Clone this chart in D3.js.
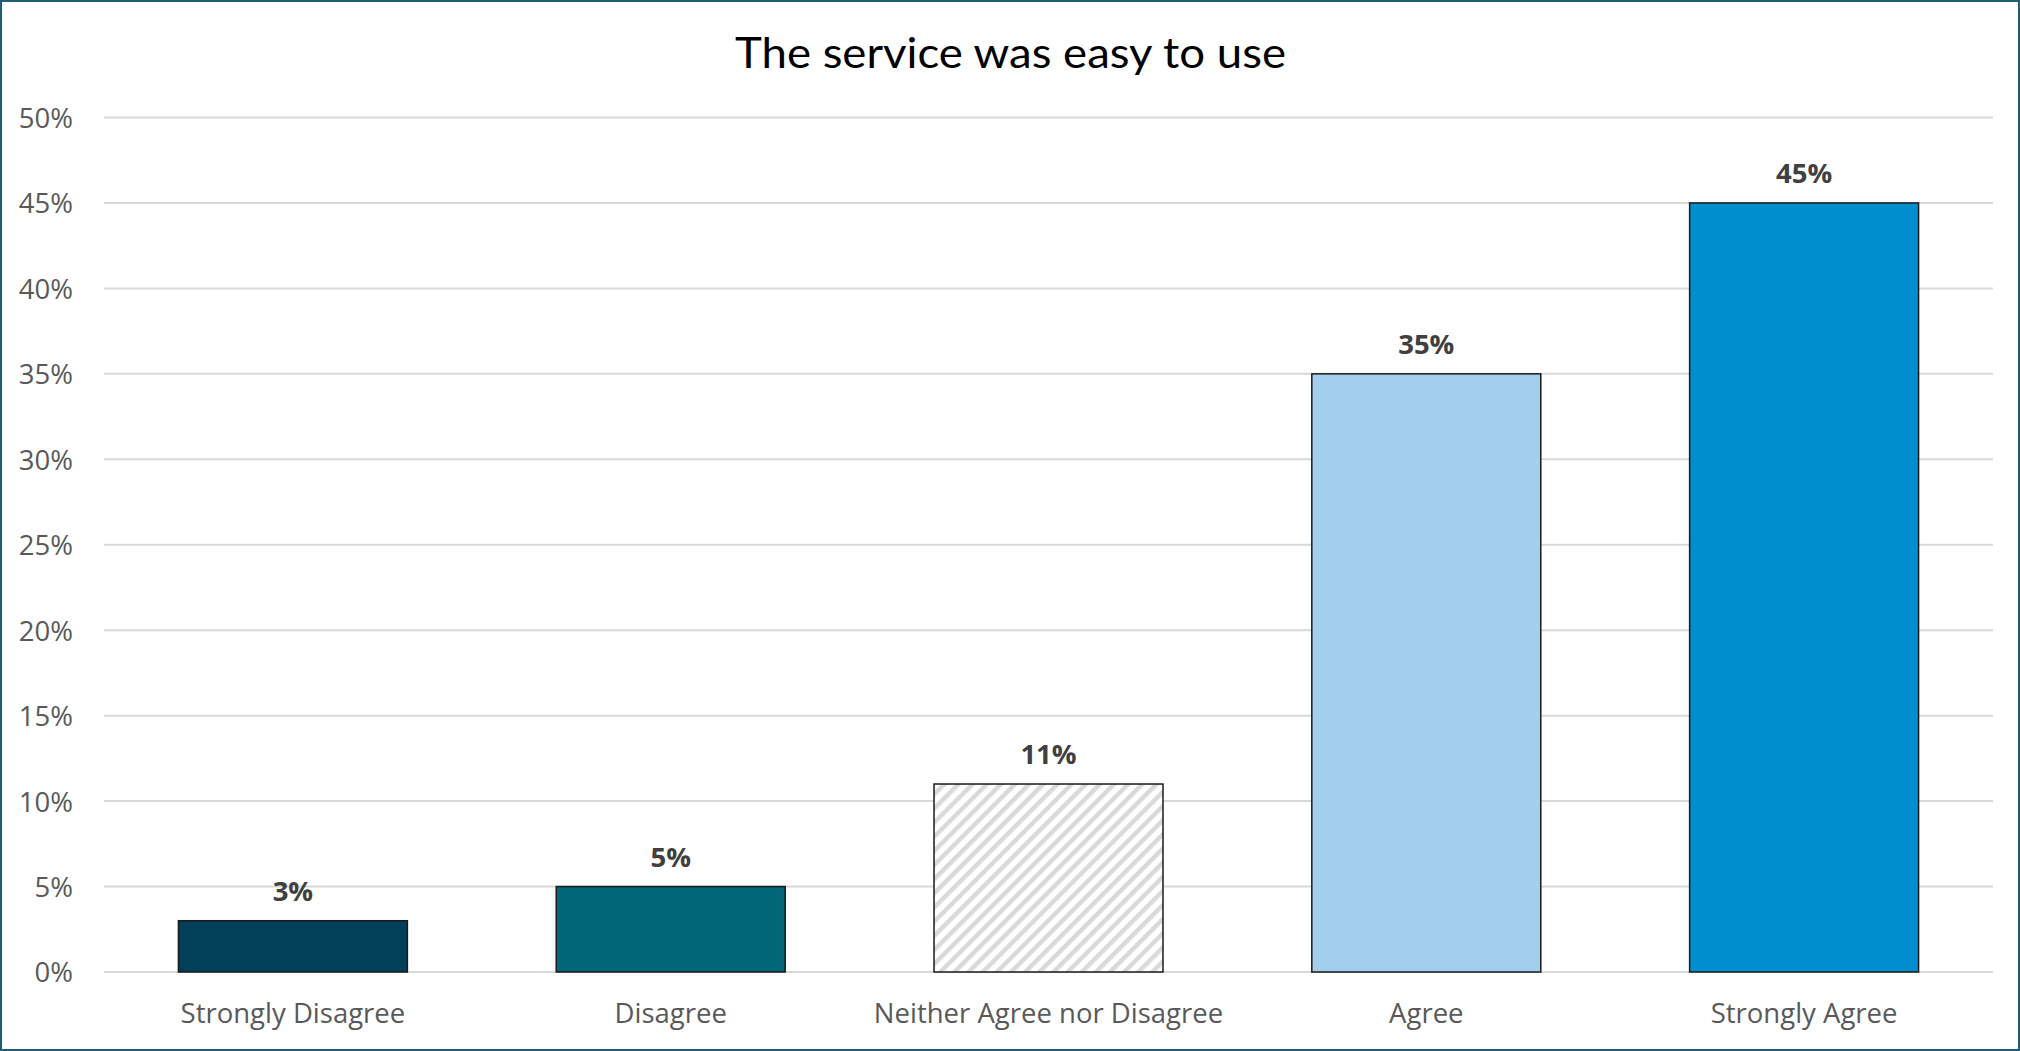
<!DOCTYPE html>
<html>
<head>
<meta charset="utf-8">
<script src="https://cdn.jsdelivr.net/npm/d3@7"></script>
<style>
  html, body { margin: 0; padding: 0; background: #fff; }
  svg { display: block; }
</style>
</head>
<body>
<div id="chart"></div>
<script>
const title = "The service was easy to use";
const categories = ["Strongly Disagree", "Disagree", "Neither Agree nor Disagree", "Agree", "Strongly Agree"];
const values = [0.03, 0.05, 0.11, 0.35, 0.45];
const yTicks = [0, 0.05, 0.10, 0.15, 0.20, 0.25, 0.30, 0.35, 0.40, 0.45, 0.50];
const barColors = ["#023F59", "#006776", "hatch", "#A3CFEC", "#008ECE"];

const W = 2020, H = 1051;
const margin = { left: 104, right: 27, top: 117.5, bottom: 79 };

const svg = d3.select("#chart").append("svg").attr("width", W).attr("height", H);

const defs = svg.append("defs");
const pat = defs.append("pattern")
  .attr("id", "hatch").attr("patternUnits", "userSpaceOnUse")
  .attr("width", 10).attr("height", 10)
  .attr("patternTransform", "rotate(45)");
pat.append("rect").attr("width", 10).attr("height", 10).attr("fill", "#ffffff");
pat.append("line").attr("x1", 0).attr("y1", 0).attr("x2", 0).attr("y2", 10)
  .attr("stroke", "#d9d9d9").attr("stroke-width", 9);

svg.append("rect").attr("x", 0).attr("y", 0).attr("width", W).attr("height", H).attr("fill", "#fff");

const x = d3.scaleBand().domain(categories)
  .range([margin.left, W - margin.right]).paddingInner(0.394).paddingOuter(0.197);
const y = d3.scaleLinear().domain([0, 0.5]).range([H - margin.bottom, margin.top]);

// gridlines
svg.append("g").selectAll("line").data(yTicks).join("line")
  .attr("x1", margin.left).attr("x2", W - margin.right)
  .attr("y1", d => y(d)).attr("y2", d => y(d))
  .attr("stroke", "#d9d9d9").attr("stroke-width", 2);

// y axis labels
const yAxis = d3.axisLeft(y).tickValues(yTicks).tickFormat(d3.format(".0%")).tickSize(0).tickPadding(0);
const gy = svg.append("g").attr("transform", `translate(73,0)`).call(yAxis);
gy.select(".domain").remove();
gy.selectAll("text").attr("font-family", "'Open Sans', sans-serif").attr("font-size", 27.5)
  .attr("fill", "#595959").attr("dy", "0.36em");

// bars
svg.append("g").selectAll("rect").data(values).join("rect")
  .attr("x", (d, i) => x(categories[i]))
  .attr("width", x.bandwidth())
  .attr("y", d => y(d))
  .attr("height", d => y(0) - y(d))
  .attr("fill", (d, i) => barColors[i] === "hatch" ? "url(#hatch)" : barColors[i])
  .attr("stroke", "#1a1a1a").attr("stroke-width", 1.5);

// data labels
svg.append("g").selectAll("text").data(values).join("text")
  .attr("x", (d, i) => x(categories[i]) + x.bandwidth() / 2)
  .attr("y", d => y(d) - 20)
  .attr("text-anchor", "middle")
  .attr("font-family", "'Open Sans', sans-serif").attr("font-weight", "bold")
  .attr("font-size", 27.5).attr("fill", "#404040")
  .text(d => d3.format(".0%")(d));

// x axis labels
const xAxis = d3.axisBottom(x).tickSize(0).tickPadding(0);
const gx = svg.append("g").attr("transform", `translate(0,${H - margin.bottom})`).call(xAxis);
gx.select(".domain").remove();
gx.selectAll("text").attr("font-family", "'Open Sans', sans-serif").attr("font-size", 27.5)
  .attr("fill", "#595959").attr("dy", null).attr("y", 51);

// title
svg.append("text").attr("x", W / 2 + 0.5).attr("y", 67.7)
  .attr("text-anchor", "middle")
  .attr("font-family", "Lato, 'Open Sans', sans-serif").attr("font-size", 43)
  .attr("fill", "#000")
  .attr("textLength", 551).attr("lengthAdjust", "spacingAndGlyphs")
  .text(title);

// outer border
svg.append("rect").attr("x", 1).attr("y", 1).attr("width", W - 2).attr("height", H - 2)
  .attr("fill", "none").attr("stroke", "#1F5F75").attr("stroke-width", 2);
</script>
</body>
</html>
